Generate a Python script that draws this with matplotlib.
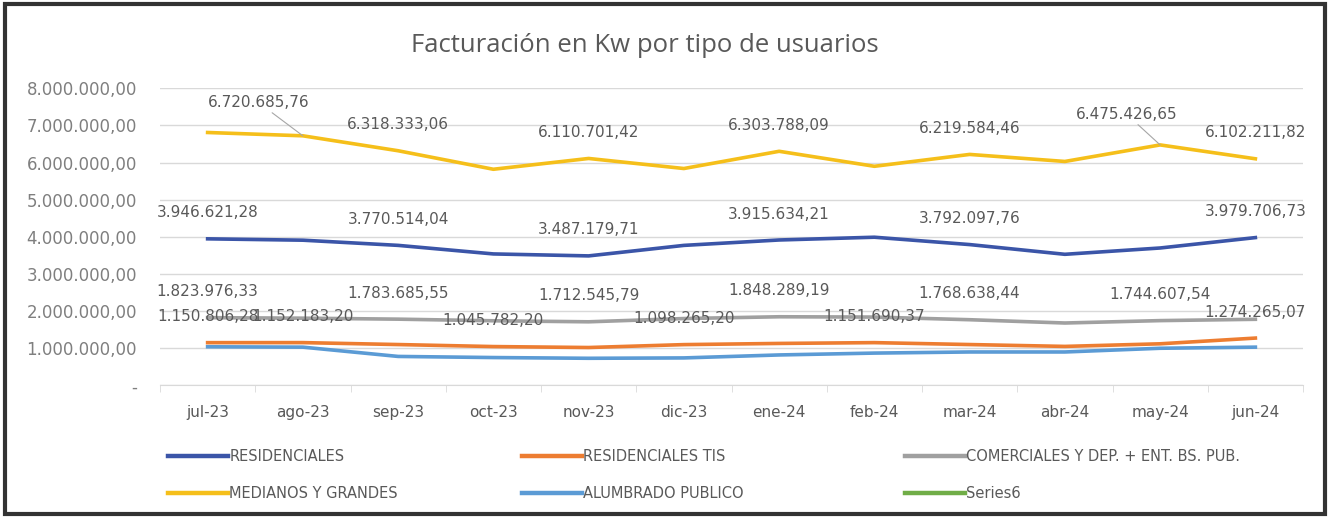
import numpy as np
import matplotlib.pyplot as plt
from matplotlib.lines import Line2D
from matplotlib.patches import Rectangle

# datos (kW)
meses = ["jul-23", "ago-23", "sep-23", "oct-23", "nov-23", "dic-23",
         "ene-24", "feb-24", "mar-24", "abr-24", "may-24", "jun-24"]

residenciales = [3946621.28, 3910000, 3770514.04, 3540000, 3487179.71, 3770000,
                 3915634.21, 3990000, 3792097.76, 3530000, 3700000, 3979706.73]
residenciales_tis = [1150806.28, 1152183.20, 1100000, 1045782.20, 1020000, 1098265.20,
                     1130000, 1151690.37, 1100000, 1050000, 1120000, 1274265.07]
comerciales = [1823976.33, 1810000, 1783685.55, 1740000, 1712545.79, 1800000,
               1848289.19, 1840000, 1768638.44, 1680000, 1744607.54, 1780000]
medianos = [6810000, 6720685.76, 6318333.06, 5820000, 6110701.42, 5840000,
            6303788.09, 5900000, 6219584.46, 6030000, 6475426.65, 6102211.82]
alumbrado = [1040000, 1030000, 780000, 750000, 730000, 740000,
             820000, 870000, 900000, 900000, 1000000, 1030000]

# indices de los puntos con etiqueta
lab_res = [0, 2, 4, 6, 8, 11]
lab_tis = [0, 1, 3, 5, 7, 11]
lab_com = [0, 2, 4, 6, 8, 10]
lab_med = [1, 2, 4, 6, 8, 10, 11]

def fmt(v):
    s = "{:,.2f}".format(v)
    return s.replace(",", "X").replace(".", ",").replace("X", ".")

c_res = '#3b55a8'
c_tis = '#ed7d31'
c_com = '#a0a0a0'
c_med = '#f5bf1a'
c_alu = '#5b9bd5'
c_s6 = '#70ad47'
txt = '#595959'

fig = plt.figure(figsize=(13.32, 5.18), dpi=100)
ax = fig.add_axes([160 / 1332, 1 - 385.4 / 518, 1143 / 1332, 297.1 / 518])

x = np.arange(len(meses))
lw = 2.6
ax.plot(x, alumbrado, color=c_alu, lw=lw, zorder=3)
ax.plot(x, residenciales_tis, color=c_tis, lw=lw, zorder=3)
ax.plot(x, comerciales, color=c_com, lw=lw, zorder=3)
ax.plot(x, residenciales, color=c_res, lw=lw, zorder=3)
ax.plot(x, medianos, color=c_med, lw=lw, zorder=3)

ax.set_xlim(-0.5, 11.5)
ax.set_ylim(0, 8000000)
ax.set_yticks(np.arange(0, 8000001, 1000000))
ax.set_yticklabels(["-"] + [fmt(v) for v in np.arange(1000000, 8000001, 1000000)])
ax.set_xticks(x)
ax.set_xticklabels(meses)
ax.set_xticks(np.arange(-0.5, 12, 1), minor=True)
ax.grid(axis='y', color='#d9d9d9', lw=1)
ax.set_axisbelow(True)
for s in ['top', 'right', 'left']:
    ax.spines[s].set_visible(False)
ax.spines['bottom'].set_color('#d9d9d9')
ax.tick_params(axis='y', length=0, pad=16.5, labelsize=12, labelcolor='#7f7f7f')
ax.tick_params(axis='x', which='major', length=0, pad=14, labelsize=11, labelcolor=txt)
ax.tick_params(axis='x', which='minor', length=5, color='#d9d9d9')

def etiquetas(serie, idx, dy=18.7, especiales=None):
    for i in idx:
        off = (0, dy)
        arrow = None
        if especiales and i in especiales:
            off = especiales[i]
            arrow = dict(arrowstyle='-', color='#a6a6a6', lw=0.8, shrinkA=0, shrinkB=0)
        ax.annotate(fmt(serie[i]), (x[i], serie[i]), xytext=off, textcoords='offset points',
                    ha='center', va='center', fontsize=11, color=txt,
                    arrowprops=arrow, annotation_clip=False, zorder=5)

etiquetas(residenciales, lab_res)
etiquetas(residenciales_tis, lab_tis)
etiquetas(comerciales, lab_com)
etiquetas(medianos, lab_med, especiales={1: (-32, 24), 10: (-24, 22)})

fig.text(645 / 1332, 1 - 45 / 518, "Facturación en Kw por tipo de usuarios", ha='center', va='center',
         fontsize=18.5, color=txt, family='Open Sans')

# leyenda: tres columnas de dos filas
columnas = [
    ([c_res, c_med], ["RESIDENCIALES", "MEDIANOS Y GRANDES"], 168),
    ([c_tis, c_alu], ["RESIDENCIALES TIS", "ALUMBRADO PUBLICO"], 522),
    ([c_com, c_s6], ["COMERCIALES Y DEP. + ENT. BS. PUB.", "Series6"], 905),
]
for colores, nombres, xpos in columnas:
    hs = [Line2D([], [], color=c, lw=3.2) for c in colores]
    fig.legend(hs, nombres, loc='upper left', bbox_to_anchor=(xpos / 1332, 1 - 449 / 518),
               frameon=False, fontsize=10.5, labelcolor=txt, handlelength=4.1,
               handletextpad=0.1, labelspacing=1.5, borderpad=0, borderaxespad=0)

fig.add_artist(Rectangle((5 / 1332, 4 / 518), 1320 / 1332, 510 / 518, transform=fig.transFigure,
                         fill=False, edgecolor='#333333', lw=3))

fig.savefig("out.png", dpi=100)
